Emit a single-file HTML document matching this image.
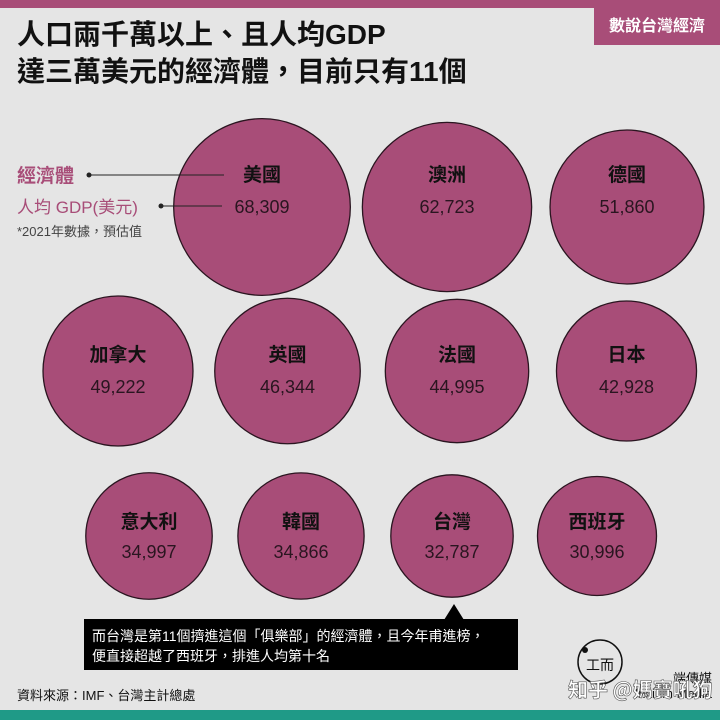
<!DOCTYPE html>
<html><head><meta charset="utf-8"><style>
body{margin:0;width:720px;height:720px;overflow:hidden;background:#e5e5e5;font-family:"Liberation Sans","Noto Sans CJK TC",sans-serif}
</style></head><body>
<svg width="720" height="720" viewBox="0 0 720 720" style="display:block">
<rect x="0" y="0" width="720" height="8" fill="#a84d78"/>
<rect x="594" y="0" width="126" height="45" fill="#a84d78"/>
<text x="657" y="31" text-anchor="middle" fill="#fff" font-size="16" font-weight="bold" font-family="Noto Sans CJK TC, sans-serif">數說台灣經濟</text>
<g font-family="Liberation Sans, Noto Sans CJK TC, sans-serif" font-weight="bold" font-size="28" fill="#111">
<text x="17" y="44">人口兩千萬以上、且人均GDP</text>
<text x="17" y="81">達三萬美元的經濟體，目前只有11個</text>
</g>
<g id="bubbles"></g>
<g font-family="Liberation Sans, Noto Sans CJK TC, sans-serif">
<text x="17" y="182" fill="#a84d78" font-size="19" font-weight="bold">經濟體</text>
<circle cx="89" cy="175" r="2.5" fill="#222"/>
<line x1="89" y1="175" x2="224" y2="175" stroke="#222" stroke-width="1"/>
<text x="17" y="213" fill="#a84d78" font-size="17">人均 GDP(美元)</text>
<circle cx="161" cy="206" r="2.5" fill="#222"/>
<line x1="161" y1="206" x2="222" y2="206" stroke="#222" stroke-width="1"/>
<text x="17" y="236" fill="#444" font-size="13">*2021年數據，預估值</text>
</g>
<g>
<polygon points="444,620 454,604 464,620" fill="#000"/>
<rect x="84" y="619" width="434" height="51" fill="#000"/>
<text x="92" y="641" fill="#fff" font-size="14" font-family="Liberation Sans, Noto Sans CJK TC, sans-serif">而台灣是第11個擠進這個「俱樂部」的經濟體，且今年甫進榜，</text>
<text x="92" y="661" fill="#fff" font-size="14" font-family="Liberation Sans, Noto Sans CJK TC, sans-serif">便直接超越了西班牙，排進人均第十名</text>
</g>
<text x="17" y="700" fill="#111" font-size="13" font-family="Liberation Sans, Noto Sans CJK TC, sans-serif">資料來源：IMF、台灣主計總處</text>
<g>
<circle cx="600" cy="662" r="22" fill="none" stroke="#111" stroke-width="1.5"/>
<circle cx="585" cy="650" r="3" fill="#111"/>
<text x="600" y="670" text-anchor="middle" font-size="14" fill="#111" font-family="Noto Sans CJK TC, sans-serif">工而</text>
<text x="712" y="683" text-anchor="end" font-size="13" fill="#111" font-family="Noto Sans CJK TC, sans-serif">端傳媒</text>
<text x="712" y="698" text-anchor="end" font-size="13" fill="#111">Initium Media</text>
</g>
<text x="568" y="697" fill="#fff" stroke="#555" stroke-width="0.6" font-size="20" font-weight="bold" font-family="Noto Sans CJK SC, sans-serif">知乎 @媽寶吼狗</text>
<rect x="0" y="710" width="720" height="10" fill="#1f9a87"/>
</svg>
<script>
const countries=["美國","澳洲","德國","加拿大","英國","法國","日本","意大利","韓國","台灣","西班牙"];
const gdpValues=[68309,62723,51860,49222,46344,44995,42928,34997,34866,32787,30996];
const gdpLabels=["68,309","62,723","51,860","49,222","46,344","44,995","42,928","34,997","34,866","32,787","30,996"];
const rowOf=[0,0,0,1,1,1,1,2,2,2,2];
const colOf=[0,1,2,0,1,2,3,0,1,2,3];
function rScale(v){return 0.338*Math.sqrt(v);}
function cx(i){const r=rowOf[i],c=colOf[i];
 if(r===0) return [262,447,627][c];
 if(r===1) return 118+c*169.5;
 return [149,301,452,597][c];}
function cy(i){return [207,371,536][rowOf[i]];}
const labelOff=[-26,-10,-8], valueOff=[6,22,22];
const ns="http://www.w3.org/2000/svg",g=document.getElementById('bubbles');
countries.forEach((name,i)=>{
 const x=cx(i),y=cy(i),r=rowOf[i];
 const c=document.createElementNS(ns,'circle');
 c.setAttribute('cx',x);c.setAttribute('cy',y);c.setAttribute('r',rScale(gdpValues[i]));
 c.setAttribute('fill','#a84d78');c.setAttribute('stroke','#2a1520');c.setAttribute('stroke-width','1.3');
 
 
 g.appendChild(c);
 const t=document.createElementNS(ns,'text');
 t.setAttribute('x',x);t.setAttribute('y',y+labelOff[r]);t.setAttribute('text-anchor','middle');
 t.setAttribute('font-size','19');t.setAttribute('font-weight','bold');t.setAttribute('fill','#111');
 t.setAttribute('font-family','Noto Sans CJK TC, sans-serif');t.textContent=name;
 
 
 g.appendChild(t);
 const v=document.createElementNS(ns,'text');
 v.setAttribute('x',x);v.setAttribute('y',y+valueOff[r]);v.setAttribute('text-anchor','middle');
 v.setAttribute('font-size','18');v.setAttribute('fill','#2a1520');
 v.setAttribute('font-family','Liberation Sans, sans-serif');v.textContent=gdpLabels[i];
 
 
 g.appendChild(v);
});
</script>
</body></html>
